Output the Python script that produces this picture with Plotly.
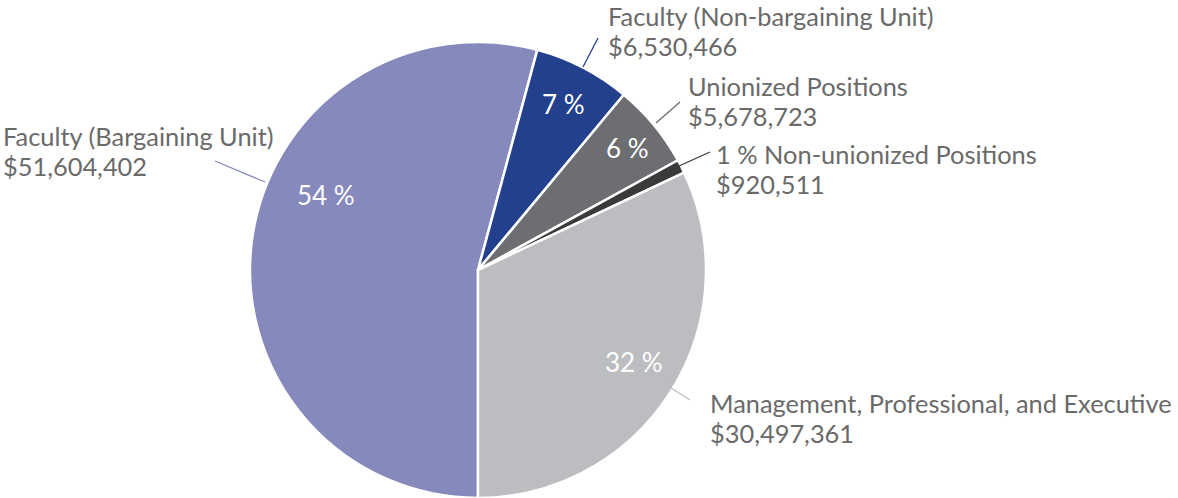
import plotly.graph_objects as go

W, H = 1178, 498

categories = ["Faculty (Bargaining Unit)", "Faculty (Non-bargaining Unit)",
              "Unionized Positions", "Non-unionized Positions",
              "Management, Professional, and Executive"]
values = [51604402, 6530466, 5678723, 920511, 30497361]
colors = ["#8589BC", "#22408C", "#6D6E71", "#3A3A3C", "#BCBDC0"]

total = sum(values)
pcts = [round(v / total * 100) for v in values]

fig = go.Figure(go.Pie(
    labels=categories, values=values, sort=False, direction="clockwise",
    rotation=180, textinfo="none", showlegend=False,
    marker=dict(colors=colors, line=dict(color="white", width=2.5)),
    domain=dict(x=[250 / W, 706 / W], y=[0, 456 / H]),
))


def px(x):
    return x / W


def py(y):
    return 1 - y / H


# outside labels (layout positions, pixel space): left x, first-line centre y
out_pos = [(4, 136), (609, 16), (689, 86), (717, 154), (711, 403)]
line_gap = 30
leaders = [((215, 161), (265, 182)), ((598, 38), (583, 67)),
           ((680, 102), (656, 123)), ((710, 152), (679, 166)),
           ((663, 383), (690, 400))]
inside_pos = [(326, 195), (563, 104), (627, 148), None, (634, 362)]

font = "Lato"
txtcol = "#6a6a6a"
annotations = []
shapes = []
for i, cat in enumerate(categories):
    x, y = out_pos[i]
    name = cat if inside_pos[i] is not None else f"{pcts[i]} % {cat}"
    for k, line in enumerate([name, f"${values[i]:,}"]):
        annotations.append(dict(
            x=px(x), y=py(y + k * line_gap), xref="paper", yref="paper",
            xanchor="left", yanchor="middle", text=line, showarrow=False,
            borderpad=0, xshift=-2,
            font=dict(family=font, size=25.4, color=txtcol)))
    (x0, y0), (x1, y1) = leaders[i]
    shapes.append(dict(type="line", xref="paper", yref="paper",
                       x0=px(x0), y0=py(y0), x1=px(x1), y1=py(y1),
                       line=dict(color=colors[i], width=1.3)))
    if inside_pos[i] is not None:
        ix, iy = inside_pos[i]
        annotations.append(dict(
            x=px(ix), y=py(iy), xref="paper", yref="paper", xanchor="center",
            yanchor="middle", text=f"{pcts[i]} %", showarrow=False,
            font=dict(family=font, size=26, color="white")))

fig.update_layout(
    width=W, height=H, margin=dict(l=0, r=0, t=0, b=0),
    paper_bgcolor="white", plot_bgcolor="white",
    annotations=annotations, shapes=shapes,
)

fig.write_html("out.html", config={"displayModeBar": False},
               post_script="document.body.style.margin='0';document.body.style.overflow='hidden';")
